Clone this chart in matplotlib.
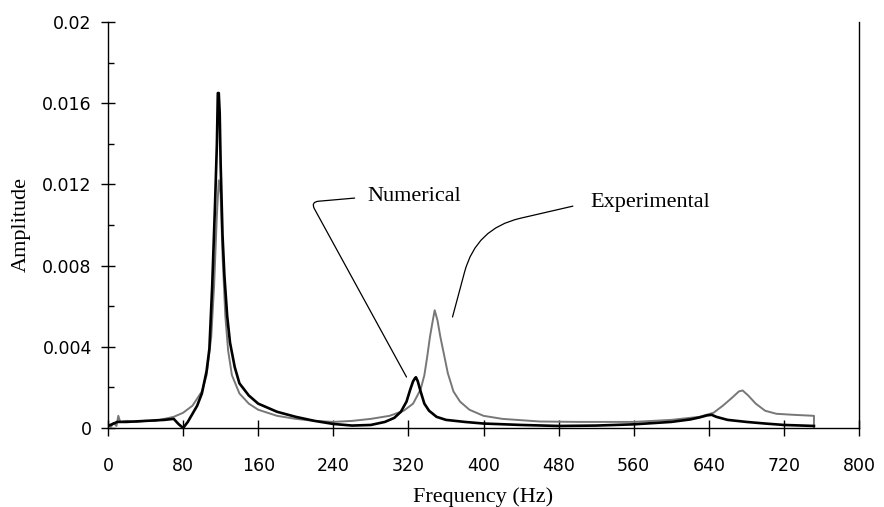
import matplotlib.pyplot as plt
from matplotlib.ticker import MultipleLocator, FuncFormatter

# frequency (Hz) / amplitude (x 1e-3)
freq_num = [0, 5, 10, 20, 40, 60, 70, 75, 80, 85, 90, 95, 100, 105, 108, 111, 114, 116,
            117, 118, 119, 120, 122, 124, 127, 130, 135, 140, 150, 160, 180, 200, 220,
            240, 260, 280, 295, 305, 312, 318, 322, 325, 327, 328, 330, 333, 337, 342,
            350, 360, 380, 400, 440, 480, 520, 560, 600, 620, 630, 638, 643, 648, 660,
            680, 700, 720, 740, 752]
amp_num = [0.1, 0.2, 0.3, 0.3, 0.35, 0.4, 0.45, 0.2, 0.0, 0.3, 0.7, 1.1, 1.7, 2.8, 3.9,
           7.0, 11.0, 14.0, 16.5, 16.5, 15.5, 13.0, 9.5, 7.5, 5.5, 4.2, 3.0, 2.2, 1.6, 1.2,
           0.8, 0.55, 0.35, 0.2, 0.12, 0.15, 0.3, 0.5, 0.8, 1.3, 1.9, 2.3, 2.45, 2.5, 2.3,
           1.8, 1.2, 0.85, 0.55, 0.4, 0.3, 0.22, 0.15, 0.1, 0.12, 0.18, 0.3, 0.42, 0.52,
           0.62, 0.65, 0.55, 0.4, 0.3, 0.22, 0.15, 0.12, 0.1]

freq_exp = [0, 3, 6, 9, 11, 13, 20, 30, 40, 50, 60, 70, 80, 90, 100, 105, 110, 113, 116,
            118, 120, 122, 125, 128, 132, 140, 150, 160, 180, 200, 220, 240, 260, 280,
            300, 315, 325, 333, 337, 340, 343, 346, 348, 351, 354, 358, 362, 368, 375,
            385, 400, 420, 460, 500, 560, 600, 630, 645, 655, 665, 672, 676, 682, 690,
            700, 712, 730, 752, 752]
amp_exp = [0.2, 0.05, 0.25, 0.1, 0.6, 0.3, 0.35, 0.3, 0.35, 0.35, 0.45, 0.55, 0.75, 1.1,
           1.8, 2.6, 4.5, 7.0, 10.5, 12.2, 11.5, 8.5, 5.5, 3.8, 2.6, 1.7, 1.2, 0.9, 0.6,
           0.45, 0.35, 0.3, 0.35, 0.45, 0.6, 0.85, 1.2, 1.9, 2.6, 3.5, 4.5, 5.3, 5.8, 5.3,
           4.5, 3.6, 2.7, 1.8, 1.3, 0.9, 0.6, 0.45, 0.32, 0.3, 0.3, 0.4, 0.55, 0.75, 1.1,
           1.5, 1.8, 1.85, 1.6, 1.2, 0.85, 0.7, 0.65, 0.6, 0.0]

serif = ['Liberation Serif', 'DejaVu Serif']

fig = plt.figure(figsize=(8.84, 5.07), dpi=100)
ax = fig.add_axes([108 / 884, 1 - 428 / 507, 751 / 884, 406 / 507])

ax.plot(freq_exp, [a * 1e-3 for a in amp_exp], color='#777777', lw=1.4)
ax.plot(freq_num, [a * 1e-3 for a in amp_num], color='black', lw=1.9)

ax.set_xlim(0, 800)
ax.set_ylim(0, 0.02)
ax.xaxis.set_major_locator(MultipleLocator(80))
ax.yaxis.set_major_locator(MultipleLocator(0.004))
ax.yaxis.set_minor_locator(MultipleLocator(0.002))
ax.yaxis.set_major_formatter(FuncFormatter(lambda v, p: f'{v:g}'))

ax.spines['top'].set_visible(False)
for s in ['left', 'right', 'bottom']:
    ax.spines[s].set_linewidth(1.0)

ax.tick_params(axis='x', which='major', direction='inout', length=12, width=1,
               pad=15, labelsize=12.5)
ax.tick_params(axis='y', which='major', direction='inout', length=9.4, width=1,
               pad=7, labelsize=12.5)
ax.tick_params(axis='y', which='minor', direction='in', length=4.3, width=1)
for lab in ax.get_xticklabels() + ax.get_yticklabels():
    lab.set_family('DejaVu Sans')

ax.set_xlabel('Frequency (Hz)', family=serif, fontsize=16, labelpad=9)
ax.set_ylabel('Amplitude', family=serif, fontsize=16, labelpad=8)

# labels with leader lines
ax.annotate('Numerical', xy=(318, 0.00251), xytext=(276, 0.01138),
            family=serif, fontsize=16, ha='left', va='center',
            arrowprops=dict(arrowstyle='-', color='black', lw=0.9, relpos=(0, 0.5),
                            shrinkA=7, shrinkB=0,
                            connectionstyle='angle,angleA=5,angleB=118.7,rad=8'))
ax.annotate('Experimental', xy=(367, 0.00547), xytext=(514, 0.01113),
            family=serif, fontsize=16, ha='left', va='center',
            arrowprops=dict(arrowstyle='-', color='black', lw=0.9, relpos=(0, 0.5),
                            shrinkA=11, shrinkB=0,
                            connectionstyle='angle,angleA=13,angleB=75,rad=45'))

fig.savefig('out.png', dpi=100)
